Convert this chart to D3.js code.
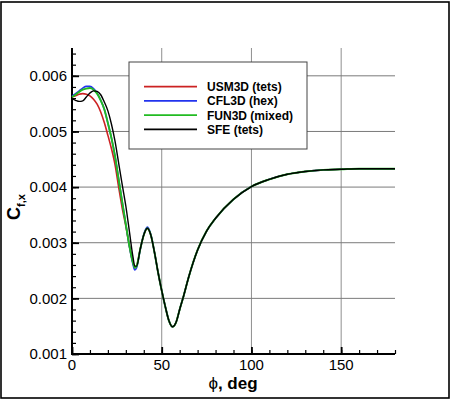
<!DOCTYPE html>
<html>
<head>
<meta charset="utf-8">
<script src="https://cdn.jsdelivr.net/npm/d3@7"></script>
<style>
  html, body { margin: 0; padding: 0; background: #fff; }
  svg { display: block; font-family: "Liberation Sans", Arial, Helvetica, sans-serif; }
</style>
</head>
<body>
<svg id="chart" width="450" height="400"></svg>
<script>
// ---- data ----
const phi = [0, 2, 4, 6, 8, 10, 12, 14, 16, 18, 20, 22, 24, 26, 28, 30, 32, 34, 35,
  36, 38, 40, 42, 44, 46, 48, 50, 52, 54, 56, 58, 60, 62, 65, 70, 75, 80, 90,
  100, 110, 120, 130, 140, 150, 160, 170, 180];

const usm3d = [0.00562, 0.00564, 0.00567, 0.00568, 0.00567, 0.00564, 0.00558, 0.00549, 0.00535, 0.00516,
  0.00493, 0.00469, 0.00440, 0.00400, 0.00362, 0.00330, 0.00294, 0.00264, 0.00255,
  0.00258, 0.00288, 0.00314, 0.00326, 0.00313, 0.00282, 0.00246, 0.00214, 0.00185, 0.00160, 0.00149,
  0.00157, 0.00180, 0.00202, 0.00238, 0.00287, 0.00321, 0.00344, 0.00378,
  0.00401, 0.00414, 0.00423, 0.00428, 0.00431, 0.00432, 0.00433, 0.00433, 0.00433];

const cfl3d = [0.00564, 0.00568, 0.00573, 0.00578, 0.00581, 0.00581, 0.00577, 0.00569, 0.00556, 0.00540,
  0.00515, 0.00488, 0.00455, 0.00414, 0.00373, 0.00333, 0.00293, 0.00261, 0.00251,
  0.00255, 0.00287, 0.00315, 0.00328, 0.00314, 0.00282, 0.00246, 0.00214, 0.00185, 0.00160, 0.00149,
  0.00157, 0.00180, 0.00202, 0.00238, 0.00287, 0.00321, 0.00344, 0.00378,
  0.00401, 0.00414, 0.00423, 0.00428, 0.00431, 0.00432, 0.00433, 0.00433, 0.00433];

const fun3d = [0.00562, 0.00566, 0.00571, 0.00575, 0.00577, 0.00578, 0.00575, 0.00568, 0.00556, 0.00540,
  0.00515, 0.00488, 0.00455, 0.00414, 0.00373, 0.00333, 0.00294, 0.00264, 0.00255,
  0.00258, 0.00288, 0.00314, 0.00326, 0.00313, 0.00282, 0.00246, 0.00214, 0.00185, 0.00160, 0.00149,
  0.00157, 0.00180, 0.00202, 0.00238, 0.00287, 0.00321, 0.00344, 0.00378,
  0.00401, 0.00414, 0.00423, 0.00428, 0.00431, 0.00432, 0.00433, 0.00433, 0.00433];

const sfe = [0.00559, 0.00556, 0.00554, 0.00555, 0.00562, 0.00569, 0.00573, 0.00572, 0.00566, 0.00553,
  0.00537, 0.00513, 0.00482, 0.00443, 0.00404, 0.00366, 0.00320, 0.00274, 0.00258,
  0.00258, 0.00288, 0.00314, 0.00326, 0.00313, 0.00282, 0.00246, 0.00214, 0.00185, 0.00160, 0.00149,
  0.00157, 0.00180, 0.00202, 0.00238, 0.00287, 0.00321, 0.00344, 0.00378,
  0.00401, 0.00414, 0.00423, 0.00428, 0.00431, 0.00432, 0.00433, 0.00433, 0.00433];

const seriesNames = ["USM3D (tets)", "CFL3D (hex)", "FUN3D (mixed)", "SFE (tets)"];
const seriesColors = ["#cc2222", "#2233ee", "#22bb22", "#000000"];
const seriesValues = [usm3d, cfl3d, fun3d, sfe];

const xTicks = [0, 50, 100, 150];
const xMinorTicks = d3.range(0, 181, 10);
const yTicks = [0.001, 0.002, 0.003, 0.004, 0.005, 0.006];
const yMinorTicks = d3.range(10, 66, 2).map(v => v / 10000);
const yTickLabels = ["0.001", "0.002", "0.003", "0.004", "0.005", "0.006"];

// ---- layout ----
const svg = d3.select("#chart");
const L = 72, R = 395, T = 48, B = 354;
const x = d3.scaleLinear().domain([0, 180]).range([L, R]);
const y = d3.scaleLinear().domain([0.001, 0.0065]).range([B, T]);

svg.append("rect").attr("x", 0).attr("y", 0).attr("width", 450).attr("height", 400).attr("fill", "#fff");
// outer frame
svg.append("rect").attr("x", 1).attr("y", 2).attr("width", 448).attr("height", 396)
  .attr("fill", "none").attr("stroke", "#000").attr("stroke-width", 1.6);

// grid
const grid = svg.append("g");
grid.selectAll("line.v").data(xTicks.filter(d => d > 0)).join("line")
  .attr("x1", d => x(d)).attr("x2", d => x(d)).attr("y1", T).attr("y2", B)
  .attr("stroke", "#8f8f8f").attr("stroke-width", 1);
grid.selectAll("line.h").data(yTicks.filter(d => d > 0.001)).join("line")
  .attr("x1", L).attr("x2", R).attr("y1", d => y(d)).attr("y2", d => y(d))
  .attr("stroke", "#7a7a7a").attr("stroke-width", 1);

// axes with inward ticks
const xAxisMinor = d3.axisTop(x).tickValues(xMinorTicks).tickSize(4).tickFormat("");
const xAxisMajor = d3.axisTop(x).tickValues(xTicks).tickSize(7).tickFormat("");
const yAxisMinor = d3.axisRight(y).tickValues(yMinorTicks).tickSize(4).tickFormat("");
const yAxisMajor = d3.axisRight(y).tickValues(yTicks).tickSize(7).tickFormat("");

function styleAxis(g) {
  g.select(".domain").remove();
  g.selectAll(".tick line").attr("stroke", "#000").attr("stroke-width", 1.2);
}
svg.append("g").attr("transform", `translate(0,${B})`).call(xAxisMinor).call(styleAxis);
svg.append("g").attr("transform", `translate(0,${B})`).call(xAxisMajor).call(styleAxis)
  .selectAll(".tick line").attr("stroke-width", 1.8);
svg.append("g").attr("transform", `translate(${L},0)`).call(yAxisMinor).call(styleAxis);
svg.append("g").attr("transform", `translate(${L},0)`).call(yAxisMajor).call(styleAxis)
  .selectAll(".tick line").attr("stroke-width", 1.8);

// axis lines
svg.append("line").attr("x1", L).attr("x2", L).attr("y1", T).attr("y2", B + 1)
  .attr("stroke", "#000").attr("stroke-width", 2);
svg.append("line").attr("x1", L - 1).attr("x2", R).attr("y1", B).attr("y2", B)
  .attr("stroke", "#000").attr("stroke-width", 2);

// tick labels
svg.append("g").selectAll("text").data(xTicks).join("text")
  .attr("x", d => x(d)).attr("y", 369.5).attr("text-anchor", "middle")
  .attr("font-size", 15).attr("fill", "#000").text(d => d);
svg.append("g").selectAll("text").data(yTicks).join("text")
  .attr("x", 67).attr("y", d => y(d)).attr("dy", "0.36em").attr("text-anchor", "end")
  .attr("font-size", 15).attr("fill", "#000").text((d, i) => yTickLabels[i]);

// curves
const line = d3.line().x(d => x(d[0])).y(d => y(d[1])).curve(d3.curveMonotoneX);
const widths = [1.6, 1.6, 1.9, 1.4];
const plot = svg.append("g");
seriesValues.forEach((vals, i) => {
  plot.append("path")
    .datum(phi.map((p, j) => [p, vals[j]]))
    .attr("d", line).attr("fill", "none")
    .attr("stroke", seriesColors[i]).attr("stroke-width", widths[i])
    .attr("stroke-linejoin", "round");
});

// legend
const lg = svg.append("g");
lg.append("rect").attr("x", 129).attr("y", 62).attr("width", 178).attr("height", 87)
  .attr("fill", "#fff").attr("stroke", "#444").attr("stroke-width", 1);
seriesNames.forEach((name, i) => {
  const cy = 86.7 + i * 14.2;
  lg.append("line").attr("x1", 144).attr("x2", 197).attr("y1", cy).attr("y2", cy)
    .attr("stroke", seriesColors[i]).attr("stroke-width", 1.8);
  lg.append("text").attr("x", 207).attr("y", cy + 4.4)
    .attr("font-size", 12).attr("font-weight", "bold").attr("fill", "#000").text(name);
});

// axis titles
svg.append("text").attr("x", 233).attr("y", 388.5).attr("text-anchor", "middle")
  .attr("font-size", 17).attr("font-weight", "bold").attr("fill", "#000")
  .html('<tspan font-weight="normal">\u03D5</tspan>, deg');

const yl = svg.append("text").attr("transform", "translate(20,207) rotate(-90)")
  .attr("text-anchor", "middle").attr("font-weight", "bold").attr("fill", "#000");
yl.append("tspan").attr("font-size", 18).text("C");
yl.append("tspan").attr("font-size", 11).attr("dy", 5).text("f,x");
</script>
</body>
</html>
